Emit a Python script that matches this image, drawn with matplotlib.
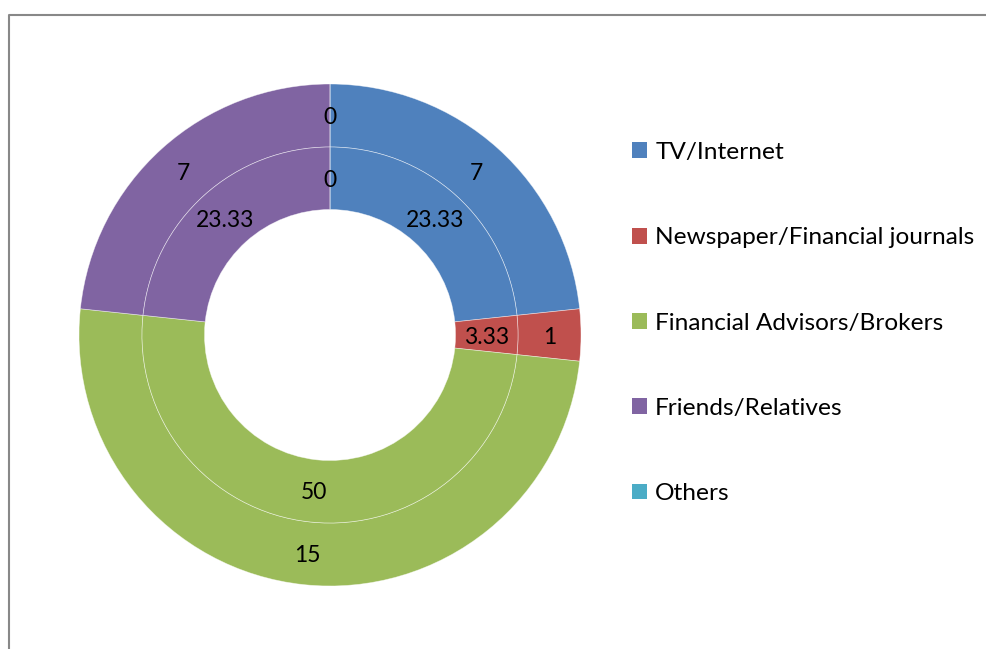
import matplotlib
matplotlib.use("Agg")
import matplotlib.pyplot as plt
from matplotlib.patches import Patch
from matplotlib.lines import Line2D
import numpy as np

categories = ["TV/Internet", "Newspaper/Financial journals", "Financial Advisors/Brokers",
              "Friends/Relatives", "Others"]
outer_values = [7, 1, 15, 7, 0]
inner_values = [23.33, 3.33, 50, 23.33, 0]
outer_labels = ["7", "1", "15", "7", "0"]
inner_labels = ["23.33", "3.33", "50", "23.33", "0"]
colors = ["#4F81BD", "#C0504D", "#9BBB59", "#8064A2", "#4BACC6"]

plt.rcParams['font.family'] = ['Lato', 'DejaVu Sans']
FS = 16.5
LFS = 17.6

W, H = 986, 649
fig = plt.figure(figsize=(W / 100, H / 100), dpi=100)
cx, cy, R = 330, 335, 251
ax = fig.add_axes([(cx - R) / W, (H - cy - R) / H, 2 * R / W, 2 * R / H])

r_out, r_mid, r_hole = 1.0, 188 / 251, 125.5 / 251

edge = dict(edgecolor=(1, 1, 1, 0.55), linewidth=0.5)
wo, _ = ax.pie(outer_values, radius=r_out, colors=colors, startangle=90, counterclock=False,
               wedgeprops=dict(width=r_out - r_mid, **edge))
wi, _ = ax.pie(inner_values, radius=r_mid, colors=colors, startangle=90, counterclock=False,
               wedgeprops=dict(width=r_mid - r_hole, **edge))
ax.set_xlim(-1, 1)
ax.set_ylim(-1, 1)
ax.set_aspect("equal")
ax.axis("off")

def label_ring(wedges, labels, r):
    for w, lab in zip(wedges, labels):
        ang = np.deg2rad((w.theta1 + w.theta2) / 2)
        ax.annotate(lab, (r * np.cos(ang), r * np.sin(ang)), xytext=(0, -1.5),
                    textcoords="offset points", ha="center", va="center",
                    fontsize=FS, color="black")

label_ring(wo, outer_labels, (r_out + r_mid) / 2)
label_ring(wi, inner_labels, (r_mid + r_hole) / 2)

handles = [Patch(facecolor=c, edgecolor="none") for c in colors]
fig.legend(handles, categories, loc="upper left", bbox_to_anchor=(632 / W, 1 - 142 / H),
           frameon=False, fontsize=LFS, handlelength=0.62, handleheight=0.62,
           handletextpad=0.33, labelspacing=2.63, borderaxespad=0, borderpad=0)

# chart-area border (top and left edges visible)
bx, by = 8.5 / W, 1 - 14.5 / H
fig.add_artist(Line2D([bx, bx, 1.0], [0.0, by, by], transform=fig.transFigure,
                      color="#888888", linewidth=1.5))

fig.savefig("out.png", dpi=100, facecolor="white")
